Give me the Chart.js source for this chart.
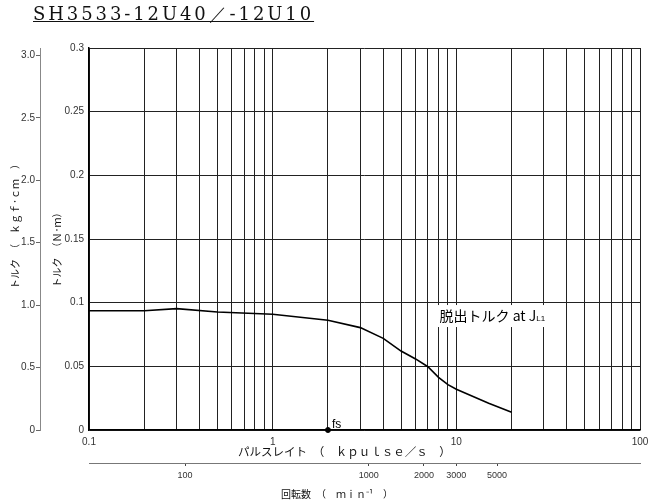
<!DOCTYPE html>
<html>
<head>
<meta charset="utf-8">
<script src="https://cdn.jsdelivr.net/npm/chart.js@4.4.0/dist/chart.umd.min.js"></script>
<style>
    html, body { margin: 0; padding: 0; background: #fff; }
    #wrap { position: relative; width: 648px; height: 504px; }
    #chart { position: absolute; left: 0; top: 0; }
    #title {
        position: absolute; left: 33px; top: 2px;
        font-family: "DejaVu Serif", "Liberation Serif", serif;
        font-size: 18px; letter-spacing: 2.9px;
        text-decoration: underline; color: #111; white-space: nowrap;
    }
</style>
</head>
<body>
<div id="wrap">
    <canvas id="chart" width="648" height="504"></canvas>
    <div id="title">SH3533-12U40／-12U10</div>
</div>
<script>
// pull-out torque curve (pulse rate in kpulse/s, torque in N·m)
const pulseRate = [0.1, 0.2, 0.3, 0.5, 1, 2, 3, 4, 5, 6, 7, 8, 9, 10, 15, 20];
const pullOutTorque = [0.0937, 0.0937, 0.0953, 0.0927, 0.0909, 0.0862, 0.0804, 0.072, 0.062, 0.0558, 0.0497, 0.0414, 0.0356, 0.032, 0.021, 0.0139];
const fsRate = 2;

const pulseTicks = [0.1, 0.2, 0.3, 0.4, 0.5, 0.6, 0.7, 0.8, 0.9,
    1, 2, 3, 4, 5, 6, 7, 8, 9,
    10, 20, 30, 40, 50, 60, 70, 80, 90, 100];
const pulseLabels = [0.1, 1, 10, 100];
const torqueTicksNm = [0, 0.05, 0.1, 0.15, 0.2, 0.25, 0.3];
const torqueTicksKgf = [0, 0.5, 1, 1.5, 2, 2.5, 3];
const speedTicks = [100, 1000, 2000, 3000, 5000];

const NM_TO_KGFCM = 10.19716;
const KPPS_TO_RPM = 300; // 1.8 deg/step

const tickFont = { family: 'Liberation Sans', size: 10 };
const jpFont = { family: 'Noto Sans CJK JP', size: 10 };

const annotations = {
    id: 'annotations',
    afterDatasetsDraw(chart) {
        const ctx = chart.ctx;
        const x = chart.scales.x;
        const y = chart.scales.y;
        ctx.save();

        // fs label
        ctx.fillStyle = '#000';
        ctx.font = '12px "Liberation Sans"';
        ctx.textBaseline = 'alphabetic';
        ctx.fillText('fs', x.getPixelForValue(fsRate) + 4, y.getPixelForValue(0) - 2);

        // pull-out torque label
        const lx = x.getPixelForValue(8) + 1;
        const ly = y.getPixelForValue(0.0895);
        const main = '脱出トルク at J';
        ctx.font = '14px "Noto Sans CJK JP"';
        const w1 = ctx.measureText(main).width;
        ctx.font = '8px "Liberation Sans"';
        const w2 = ctx.measureText('L1').width;
        ctx.fillStyle = '#fff';
        ctx.fillRect(lx - 3, ly - 11, w1 + w2 + 7, 22);
        ctx.fillStyle = '#000';
        ctx.textBaseline = 'middle';
        ctx.font = '14px "Noto Sans CJK JP"';
        ctx.fillText(main, lx, ly);
        ctx.font = '8px "Liberation Sans"';
        ctx.fillText('L1', lx + w1, ly + 3);
        ctx.restore();
    }
};

new Chart(document.getElementById('chart'), {
    type: 'line',
    data: {
        datasets: [{
            data: pulseRate.map((v, i) => ({ x: v, y: pullOutTorque[i] })),
            borderColor: '#000',
            borderWidth: 1.6,
            pointRadius: 0,
            tension: 0,
            xAxisID: 'x',
            yAxisID: 'y'
        }, {
            data: [{ x: fsRate, y: 0 }],
            showLine: false,
            pointRadius: 2.5,
            pointBackgroundColor: '#000',
            pointBorderColor: '#000',
            clip: false,
            xAxisID: 'x',
            yAxisID: 'y'
        }]
    },
    options: {
        responsive: false,
        animation: false,
        layout: { padding: { top: 48, right: 0, bottom: 0, left: 0 } },
        plugins: {
            legend: { display: false },
            tooltip: { enabled: false }
        },
        scales: {
            x: {
                type: 'logarithmic',
                position: 'bottom',
                weight: 0,
                min: 0.1,
                max: 100,
                afterBuildTicks: s => { s.ticks = pulseTicks.map(v => ({ value: v })); },
                ticks: {
                    autoSkip: false,
                    maxRotation: 0,
                    padding: 6,
                    color: '#333',
                    font: tickFont,
                    callback: v => pulseLabels.includes(v) ? String(v) : ''
                },
                grid: { color: '#222', lineWidth: 1, drawTicks: false },
                border: { color: '#000', width: 1.5 },
                title: {
                    display: true,
                    text: 'パルスレイト　（　ｋｐｕｌｓｅ／ｓ　）　　　　',
                    font: { family: 'Noto Sans CJK JP', size: 11.5 },
                    color: '#111',
                    padding: { top: 0, bottom: 4 }
                },
                afterFit: s => { s.height = 33; s.paddingRight = 8; }
            },
            x2: {
                type: 'logarithmic',
                position: 'bottom',
                weight: 1,
                min: 0.1 * KPPS_TO_RPM,
                max: 100 * KPPS_TO_RPM,
                afterBuildTicks: s => { s.ticks = speedTicks.map(v => ({ value: v })); },
                ticks: {
                    autoSkip: false,
                    maxRotation: 0,
                    padding: 4,
                    color: '#333',
                    font: { family: 'Liberation Sans', size: 9 },
                    callback: v => String(v)
                },
                grid: { drawOnChartArea: false, drawTicks: true, tickLength: 3, color: '#444' },
                border: { color: '#777', width: 1 },
                title: {
                    display: true,
                    text: '回転数　（　ｍｉｎ⁻¹　）　　　　　　',
                    font: jpFont,
                    color: '#111',
                    padding: { top: 0, bottom: 4 }
                },
                afterFit: s => { s.height = 41; s.paddingRight = 0; }
            },
            y: {
                type: 'linear',
                position: 'left',
                weight: 0,
                min: 0,
                max: 0.3,
                afterBuildTicks: s => { s.ticks = torqueTicksNm.map(v => ({ value: v })); },
                ticks: {
                    padding: 5,
                    color: '#333',
                    font: tickFont,
                    callback: v => String(+v.toFixed(2))
                },
                grid: { color: '#222', lineWidth: 1, drawTicks: false },
                border: { color: '#000', width: 1.5 },
                title: {
                    display: true,
                    text: 'トルク　（Ｎ･ｍ）　　 ',
                    font: jpFont,
                    color: '#111',
                    padding: { top: 11, bottom: 0 }
                },
                afterFit: s => { s.width = 49; }
            },
            y2: {
                type: 'linear',
                position: 'left',
                weight: 1,
                min: 0,
                max: 0.3 * NM_TO_KGFCM,
                afterBuildTicks: s => { s.ticks = torqueTicksKgf.map(v => ({ value: v })); },
                ticks: {
                    padding: 1,
                    color: '#333',
                    font: tickFont,
                    callback: v => v === 0 ? '0' : v.toFixed(1)
                },
                grid: { drawOnChartArea: false, drawTicks: true, tickLength: 4, color: '#666' },
                border: { color: '#888', width: 1 },
                title: {
                    display: true,
                    text: '　　　トルク　（　ｋｇｆ･ｃｍ　）',
                    font: jpFont,
                    color: '#111',
                    padding: { top: 9, bottom: 0 }
                },
                afterFit: s => { s.width = 40; }
            }
        }
    },
    plugins: [annotations]
});
</script>
</body>
</html>
